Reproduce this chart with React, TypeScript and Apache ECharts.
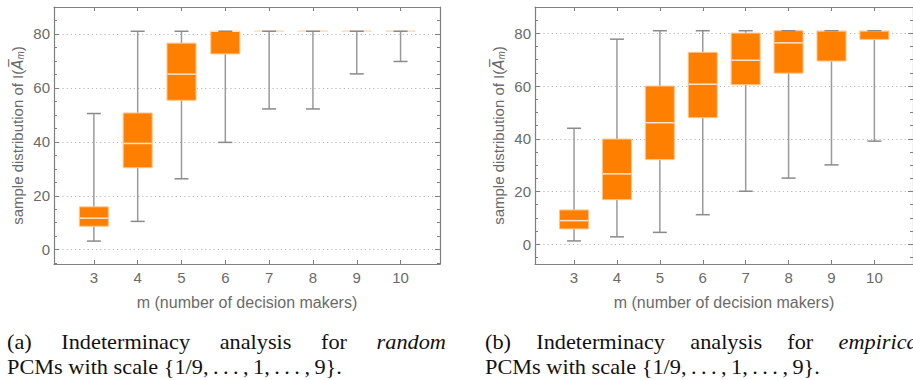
import React, { useEffect, useRef } from 'react';
import * as echarts from 'echarts';

// m (number of decision makers)
const categories = [3, 4, 5, 6, 7, 8, 9, 10];
// [min, Q1, median, Q3, max] per category
const randomStats = [
  [3.2, 8.7, 11.7, 15.9, 50.5],
  [10.5, 30.4, 39.4, 50.7, 81],
  [26.3, 55.4, 65.1, 76.6, 81],
  [39.8, 72.6, 81, 81, 81],
  [52.2, 81, 81, 81, 81],
  [52.2, 81, 81, 81, 81],
  [65.2, 81, 81, 81, 81],
  [69.8, 81, 81, 81, 81],
];
const empiricalStats = [
  [1.25, 5.8, 8.95, 13.0, 44.0],
  [2.8, 16.9, 26.7, 39.9, 77.8],
  [4.5, 32.1, 46.1, 60.0, 81],
  [11.2, 48.0, 60.7, 72.8, 81],
  [20.1, 60.5, 69.8, 80.1, 81],
  [25.1, 64.9, 76.4, 81, 81],
  [30.1, 69.5, 81, 81, 81],
  [39.1, 77.7, 81, 81, 81],
];
const majorTicks = [0, 20, 40, 60, 80];
const minorTicks = [-5, 5, 10, 15, 25, 30, 35, 45, 50, 55, 65, 70, 75, 85];

const xName = 'm (number of decision makers)';
const captionA1 = ['(a)', 'Indeterminacy', 'analysis', 'for', 'random'];
const captionB1 = ['(b)', 'Indeterminacy', 'analysis', 'for', 'empirical'];
const caption2 =
  'PCMs with scale {1/9,\u2009.\u2009.\u2009.\u2009,\u20091,\u2009.\u2009.\u2009.\u2009,\u20099}.';

const FRAME = '#7f7f7f';
const LABEL = '#6a6a6a';
const SANS = 'Liberation Sans, Arial, sans-serif';
const SERIF = 'Liberation Serif';

function measure(text: string, italic: boolean, size: number) {
  const c = document.createElement('canvas').getContext('2d');
  if (!c) return text.length * size * 0.45;
  c.font = `${italic ? 'italic ' : ''}${size}px "${SERIF}"`;
  return c.measureText(text).width;
}

function buildOption() {
  const grids = [
    { left: 54, top: 7, width: 386, height: 257 },
    { left: 535, top: 7, width: 386, height: 257 },
  ];
  const yRanges = [
    [-5.3, 90],
    [-7.5, 90],
  ];
  const xAxes: any[] = [];
  const yAxes: any[] = [];
  const series: any[] = [];
  const stats = [randomStats, empiricalStats];

  grids.forEach((g, gi) => {
    const xBase = {
      type: 'value',
      gridIndex: gi,
      min: 2.09,
      max: 10.9,
      splitLine: { show: false },
      axisLine: { show: true, onZero: false, lineStyle: { color: FRAME, width: 1.2 } },
    };
    xAxes.push({
      ...xBase,
      position: 'bottom',
      axisTick: { show: true, inside: true, length: 4, customValues: categories, lineStyle: { color: FRAME } },
      axisLabel: {
        show: true,
        customValues: categories,
        color: LABEL,
        fontSize: 15,
        fontFamily: SANS,
        margin: 6,
      },
      name: xName,
      nameLocation: 'middle',
      nameGap: 30,
      nameTextStyle: { color: LABEL, fontSize: 16, fontFamily: SANS },
    });
    xAxes.push({
      ...xBase,
      position: 'top',
      axisTick: { show: true, inside: true, length: 4, customValues: categories, lineStyle: { color: FRAME } },
      axisLabel: { show: false },
    });

    const [ymin, ymax] = yRanges[gi];
    const yBase = {
      type: 'value',
      gridIndex: gi,
      min: ymin,
      max: ymax,
      axisLine: { show: true, onZero: false, lineStyle: { color: FRAME, width: 1.2 } },
    };
    yAxes.push({
      ...yBase,
      position: 'left',
      axisTick: { show: true, inside: true, length: 5, customValues: majorTicks, lineStyle: { color: FRAME } },
      axisLabel: {
        show: true,
        customValues: majorTicks,
        color: LABEL,
        fontSize: 15,
        fontFamily: SANS,
        margin: 4,
      },
      splitLine: { show: true, lineStyle: { color: '#b8b8b8', type: [1.2, 3], width: 1.2 } },
      name: '{a|sample distribution of I(}{i|A\u0305}{s|m}{a|)}',
      nameLocation: 'middle',
      nameGap: 29,
      nameTextStyle: {
        color: LABEL,
        fontSize: 15,
        fontFamily: SANS,
        rich: {
          a: { color: LABEL, fontSize: 15, fontFamily: SANS, verticalAlign: 'bottom' },
          i: { color: LABEL, fontSize: 15, fontStyle: 'italic', fontFamily: 'DejaVu Sans, sans-serif', verticalAlign: 'bottom' },
          s: { color: LABEL, fontSize: 10, fontStyle: 'italic', fontFamily: SANS, verticalAlign: 'bottom' },
        },
      },
    });
    yAxes.push({
      ...yBase,
      position: 'left',
      axisLine: { show: false },
      axisTick: { show: true, inside: true, length: 3, customValues: minorTicks, lineStyle: { color: FRAME } },
      axisLabel: { show: false },
      splitLine: { show: false },
    });
    yAxes.push({
      ...yBase,
      position: 'right',
      axisTick: { show: true, inside: true, length: 5, customValues: majorTicks, lineStyle: { color: FRAME } },
      axisLabel: { show: false },
      splitLine: { show: false },
    });
    yAxes.push({
      ...yBase,
      position: 'right',
      axisLine: { show: false },
      axisTick: { show: true, inside: true, length: 3, customValues: minorTicks, lineStyle: { color: FRAME } },
      axisLabel: { show: false },
      splitLine: { show: false },
    });

    series.push({
      type: 'custom',
      xAxisIndex: gi * 2,
      yAxisIndex: gi * 4,
      data: categories.map((c, i) => [c, ...stats[gi][i]]),
      encode: { x: 0, y: [1, 2, 3, 4, 5] },
      renderItem: (params: any, api: any) => {
        const x = api.value(0);
        const pts = [1, 2, 3, 4, 5].map((k) => api.coord([x, api.value(k)]));
        const [pMin, pQ1, pMed, pQ3, pMax] = pts;
        const cx = pMin[0];
        const bw = 29;
        const cw = 14;
        const wStyle = { stroke: '#9a9a9a', lineWidth: 1.5 };
        const capStyle = { stroke: '#8a8a8a', lineWidth: 1.5 };
        return {
          type: 'group',
          children: [
            { type: 'line', shape: { x1: cx, y1: pMax[1], x2: cx, y2: pQ3[1] }, style: wStyle },
            { type: 'line', shape: { x1: cx, y1: pQ1[1], x2: cx, y2: pMin[1] }, style: wStyle },
            {
              type: 'rect',
              shape: { x: cx - bw / 2, y: pQ3[1], width: bw, height: pQ1[1] - pQ3[1] },
              style: { fill: '#ff8000', stroke: '#ffc58c', lineWidth: 1 },
            },
            {
              type: 'line',
              shape: { x1: cx - bw / 2 + 0.5, y1: pMed[1], x2: cx + bw / 2 - 0.5, y2: pMed[1] },
              style: { stroke: '#ffe3c6', lineWidth: 1.5 },
            },
            { type: 'line', shape: { x1: cx - cw / 2, y1: pMax[1], x2: cx + cw / 2, y2: pMax[1] }, style: capStyle },
            { type: 'line', shape: { x1: cx - cw / 2, y1: pMin[1], x2: cx + cw / 2, y2: pMin[1] }, style: capStyle },
          ],
        };
      },
    });
  });

  // captions: serif, line 1 justified across the column, line 2 natural width
  const fs = 21;
  const line2Target = 335;
  const sx = line2Target / measure(caption2, false, fs);
  const capText = (text: string, italic = false) => ({
    text,
    fill: '#111',
    fontSize: fs,
    fontFamily: SERIF,
    fontStyle: italic ? 'italic' : 'normal',
    verticalAlign: 'middle',
    align: 'left',
  });
  const graphic: any[] = [];
  const justify = (words: string[], x0: number, x1: number) => {
    const widths = words.map((w, i) => measure(w, i === words.length - 1, fs) * sx);
    const total = widths.reduce((a, b) => a + b, 0);
    const gap = (x1 - x0 - total) / (words.length - 1);
    let x = x0;
    words.forEach((w, i) => {
      graphic.push({ type: 'text', x, y: 342, scaleX: sx, style: capText(w, i === words.length - 1) });
      x += widths[i] + gap;
    });
  };
  justify(captionA1, 7, 446);
  justify(captionB1, 485, 924);
  graphic.push({ type: 'text', x: 7, y: 367, scaleX: sx, style: capText(caption2) });
  graphic.push({ type: 'text', x: 485, y: 367, scaleX: sx, style: capText(caption2) });

  return {
    animation: false,
    backgroundColor: '#ffffff',
    grid: grids.map((g) => ({ ...g, containLabel: false, show: false })),
    xAxis: xAxes,
    yAxis: yAxes,
    series,
    graphic,
  };
}

export default function App() {
  const ref = useRef<HTMLDivElement>(null);
  useEffect(() => {
    if (!ref.current) return;
    const chart = echarts.init(ref.current, undefined, { renderer: 'svg' });
    chart.setOption(buildOption() as any);
    return () => chart.dispose();
  }, []);
  return (
    <div
      ref={ref}
      style={{ position: 'fixed', left: 0, top: 0, width: 913, height: 380, background: '#fff' }}
    />
  );
}
